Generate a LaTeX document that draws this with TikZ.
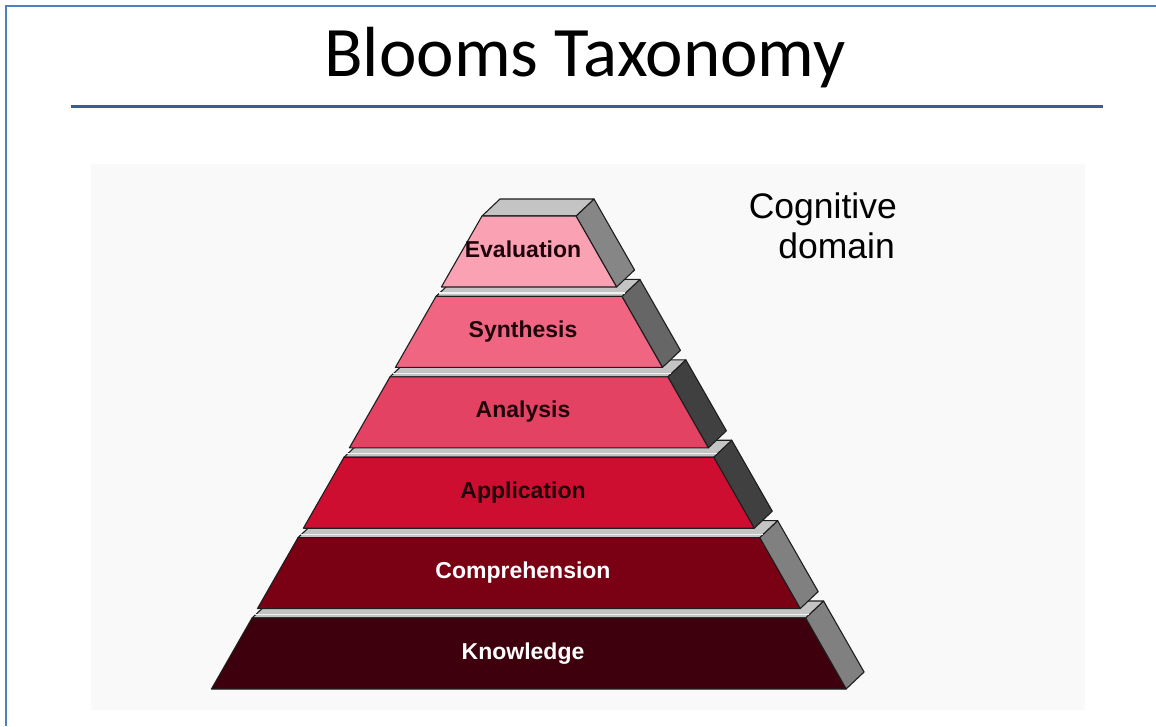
\documentclass[tikz,border=0pt]{standalone}
\usepackage{fontspec}
\setmainfont{Liberation Sans}
\newfontfamily\titlefont{Carlito}
\definecolor{framec}{RGB}{79,129,189}
\definecolor{rulec}{RGB}{60,94,142}
\definecolor{panelc}{RGB}{249,249,249}
\definecolor{topc}{RGB}{196,196,196}
\definecolor{edgec}{RGB}{30,30,30}
\definecolor{labc}{RGB}{30,4,10}
\definecolor{fEval}{RGB}{250,162,180}
\definecolor{fSynt}{RGB}{240,102,130}
\definecolor{fAnal}{RGB}{228,66,98}
\definecolor{fAppl}{RGB}{206,14,48}
\definecolor{fComp}{RGB}{122,0,20}
\definecolor{fKnow}{RGB}{62,0,12}
\definecolor{sEval}{RGB}{134,134,134}
\definecolor{sSynt}{RGB}{102,102,102}
\definecolor{sAnal}{RGB}{64,64,64}
\definecolor{sAppl}{RGB}{64,64,64}
\definecolor{sComp}{RGB}{128,128,128}
\definecolor{sKnow}{RGB}{128,128,128}
\tikzset{
  face/.style={draw=edgec, line width=1.1pt, line join=round},
  levellabel/.style={font=\fontsize{23}{27}\selectfont\bfseries, inner sep=0pt, anchor=base},
  domainlabel/.style={font=\fontsize{35.5}{40}\selectfont, inner sep=0pt, anchor=base east, text=black},
}
\begin{document}
\begin{tikzpicture}[x=1pt, y=-1pt]
\useasboundingbox (0,0) rectangle (1156,726);
\fill[white] (0,0) rectangle (1156,726);
% frame
\draw[framec, line width=2.6pt] (6,726) -- (6,6) -- (1156,6);
% title
\node[font=\titlefont\fontsize{71}{80}\selectfont, inner sep=0pt, anchor=base] (title) at (585,76) {Blooms Taxonomy};
\draw[rulec, line width=3pt] (71,106) -- (1103,106);
% panel
\fill[panelc] (91,164) rectangle (1085,710);
% pyramid levels, bottom to top
\foreach \i/\fc/\sc/\lab/\tc in {5/fKnow/sKnow/Knowledge/white, 4/fComp/sComp/Comprehension/white, 3/fAppl/sAppl/Application/labc, 2/fAnal/sAnal/Analysis/labc, 1/fSynt/sSynt/Synthesis/labc, 0/fEval/sEval/Evaluation/labc}{
  \pgfmathsetmacro\yt{216+80.4*\i}
  \pgfmathsetmacro\yb{\yt+71}
  \pgfmathsetmacro\Lt{482-0.572*(\yt-216)}
  \pgfmathsetmacro\Lb{482-0.572*(\yb-216)}
  \pgfmathsetmacro\Rt{576+0.571*(\yt-216)}
  \pgfmathsetmacro\Rb{576+0.571*(\yb-216)}
  \filldraw[face, fill=\sc] (\Rt,\yt) -- (\Rb,\yb) -- (\Rb+18,\yb-17) -- (\Rt+18,\yt-17) -- cycle;
  \filldraw[face, fill=topc] (\Lt,\yt) -- (\Rt,\yt) -- (\Rt+18,\yt-17) -- (\Lt+18,\yt-17) -- cycle;
  \ifnum\i>0
    \draw[white!88!gray, line width=1.2pt] (\Lt+2.5,\yt-3.5) -- (\Rt+3,\yt-3.5);
  \fi
  \filldraw[face, fill=\fc] (\Lt,\yt) -- (\Rt,\yt) -- (\Rb,\yb) -- (\Lb,\yb) -- cycle;
  \node[levellabel, text=\tc] (lv\i) at (523,\yt+41) {\lab};
}
% domain label
\node[domainlabel] (cog) at (897,218) {Cognitive};
\node[domainlabel] (dom) at (895,258) {domain};
\end{tikzpicture}
\end{document}
